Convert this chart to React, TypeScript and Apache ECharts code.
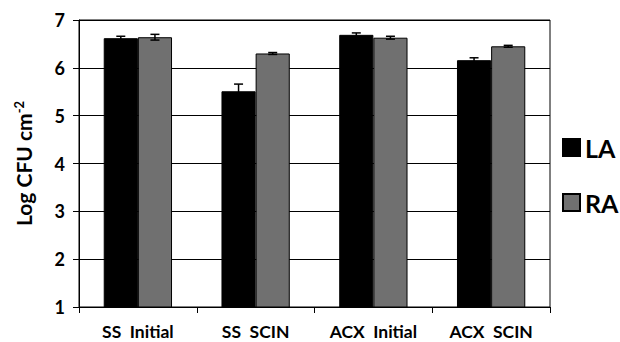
import React, { useEffect, useRef } from "react";
import * as echarts from "echarts";

const categories = ["SS  Initial", "SS  SCIN", "ACX  Initial", "ACX  SCIN"];
const laValues = [6.62, 5.51, 6.69, 6.16];
const laErrors = [0.04, 0.15, 0.04, 0.05];
const raValues = [6.64, 6.3, 6.63, 6.45];
const raErrors = [0.06, 0.02, 0.03, 0.02];
const yTicks = [1, 2, 3, 4, 5, 6, 7];

const FONT = "Lato, 'Open Sans', sans-serif";
const GAP = 0.42;

export default function App() {
  const ref = useRef<HTMLDivElement>(null);
  useEffect(() => {
    if (!ref.current) return;
    const chart = echarts.init(ref.current, null, { renderer: "svg" });
    const errData: number[][] = [];
    laValues.forEach((v, i) => errData.push([i, v, laErrors[i], 0]));
    raValues.forEach((v, i) => errData.push([i, v, raErrors[i], 1]));
    chart.setOption({
      animation: false,
      grid: { left: 79, right: 70, top: 20, bottom: 35, show: true, borderColor: "#000", borderWidth: 1 },
      legend: {
        data: ["LA", "RA"],
        orient: "vertical",
        left: 557,
        top: 130,
        itemWidth: 17,
        itemHeight: 17,
        itemGap: 30,
        icon: "rect",
        textStyle: { fontFamily: FONT, fontWeight: "bold", fontSize: 25, color: "#000" },
      },
      xAxis: {
        type: "category",
        data: categories,
        axisLine: { show: true, lineStyle: { color: "#000", width: 1 } },
        axisTick: { show: true, length: 6, lineStyle: { color: "#000" } },
        axisLabel: { color: "#000", fontFamily: FONT, fontWeight: "bold", fontSize: 17.5, margin: 15, lineHeight: 18 },
        splitLine: { show: false },
      },
      yAxis: {
        type: "value",
        min: yTicks[0],
        max: yTicks[yTicks.length - 1],
        interval: 1,
        name: "Log CFU cm{sup|-2}",
        nameLocation: "middle",
        nameGap: 45,
        nameTextStyle: {
          color: "#000",
          fontFamily: FONT,
          fontWeight: "bold",
          fontSize: 21,
          rich: { sup: { fontSize: 13, fontWeight: "bold", fontFamily: FONT, color: "#000", verticalAlign: "top", padding: [0, 0, 9, 0] } },
        },
        axisLine: { show: true, lineStyle: { color: "#000", width: 1 } },
        axisTick: { show: true, length: 6, lineStyle: { color: "#000" } },
        axisLabel: { color: "#000", fontFamily: FONT, fontWeight: "bold", fontSize: 18, margin: 14 },
        splitLine: { show: true, lineStyle: { color: "#000", width: 1 } },
      },
      series: [
        {
          name: "LA",
          type: "bar",
          data: laValues,
          barGap: "0%",
          barCategoryGap: GAP * 100 + "%",
          itemStyle: { color: "#000", borderColor: "#000", borderWidth: 1 },
        },
        {
          name: "RA",
          type: "bar",
          data: raValues,
          barGap: "0%",
          barCategoryGap: GAP * 100 + "%",
          itemStyle: { color: "#707070", borderColor: "#000", borderWidth: 1 },
        },
        {
          type: "custom",
          data: errData,
          z: 10,
          renderItem: (params: any, api: any) => {
            const idx = api.value(0);
            const v = api.value(1);
            const e = api.value(2);
            const s = api.value(3);
            const band = api.size([1, 0])[0];
            const bw = (band * (1 - GAP)) / 2;
            const c = api.coord([idx, v]);
            const x = c[0] + (s === 0 ? -bw / 2 : bw / 2);
            const top = api.coord([idx, v + e])[1];
            const bot = api.coord([idx, v - e])[1];
            const hw = 4.5;
            const style = { stroke: "#000", lineWidth: 1.5 };
            return {
              type: "group",
              children: [
                { type: "line", shape: { x1: x, y1: top, x2: x, y2: bot }, style },
                { type: "line", shape: { x1: x - hw, y1: top, x2: x + hw, y2: top }, style },
                { type: "line", shape: { x1: x - hw, y1: bot, x2: x + hw, y2: bot }, style },
              ],
            };
          },
        },
      ],
    });
    return () => chart.dispose();
  }, []);
  return <div ref={ref} style={{ width: 620, height: 342, position: "absolute", left: 0, top: 0, background: "#fff" }} />;
}
